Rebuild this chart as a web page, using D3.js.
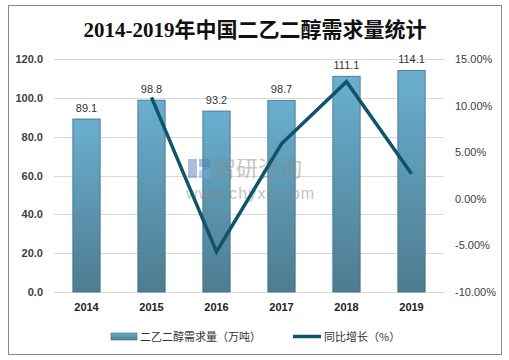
<!DOCTYPE html>
<html><head><meta charset="utf-8">
<script src="https://cdn.jsdelivr.net/npm/d3@7/dist/d3.min.js"></script>
<style>body{margin:0;background:#fff}svg{display:block}</style>
</head><body>
<svg id="c" width="509" height="360"></svg>
<script>
const years = ["2014","2015","2016","2017","2018","2019"];
const demand = [89.1, 98.8, 93.2, 98.7, 111.1, 114.1];
const growth = [null, 10.89, -5.67, 5.90, 12.56, 2.70];
const leftTicks = [0,20,40,60,80,100,120];
const rightTicks = [-10,-5,0,5,10,15];
const title = "2014-2019年中国二乙二醇需求量统计";
const legendBar = "二乙二醇需求量（万吨）";
const legendLine = "同比增长（%）";

const svg = d3.select("#c");
const defs = svg.append("defs");
const g = defs.append("linearGradient").attr("id","bg").attr("x1",0).attr("y1",0).attr("x2",0).attr("y2",1);
g.append("stop").attr("offset","0%").attr("stop-color","#6aafd0");
g.append("stop").attr("offset","100%").attr("stop-color","#4e7c90");

svg.append("rect").attr("x",8.5).attr("y",5.5).attr("width",493).attr("height",349)
  .attr("fill","#fff").attr("stroke","#888").attr("stroke-width",1);

svg.append("text").attr("x",255).attr("y",37).attr("text-anchor","middle")
  .attr("font-family","'Liberation Serif','Noto Sans CJK SC',serif").attr("font-size",21).attr("font-weight","bold")
  .attr("fill","#111").text(title);

const x = d3.scaleBand().domain(years).range([54,444]).paddingInner(0.58).paddingOuter(0.29);
const y = d3.scaleLinear().domain([0,120]).range([292,59]);
const y2 = d3.scaleLinear().domain([-10,15]).range([292,59]);

// gridlines
svg.append("g").selectAll("line").data(leftTicks).join("line")
  .attr("x1",54).attr("x2",444).attr("y1",d=>Math.round(y(d))+0.5).attr("y2",d=>Math.round(y(d))+0.5)
  .attr("stroke","#d9d9d9").attr("stroke-width",1);

// left axis
const la = svg.append("g").attr("transform","translate(54,0)")
  .call(d3.axisLeft(y).tickValues(leftTicks).tickFormat(d3.format(".1f")).tickSize(0).tickPadding(11));
la.select(".domain").remove();
la.selectAll("text").attr("font-family","'Liberation Sans',Arial,sans-serif").attr("font-size",11).attr("font-weight","bold").attr("fill","#404040");

// right axis
const ra = svg.append("g").attr("transform","translate(444,0)")
  .call(d3.axisRight(y2).tickValues(rightTicks).tickFormat(d=>d.toFixed(2)+"%").tickSize(0).tickPadding(11));
ra.select(".domain").remove();
ra.selectAll("text").attr("font-family","'Liberation Sans',Arial,sans-serif").attr("font-size",11).attr("fill","#404040");

// bottom axis
const ba = svg.append("g").attr("transform","translate(0,292)")
  .call(d3.axisBottom(x).tickSize(0).tickPadding(11));
ba.select(".domain").remove();
ba.selectAll("text").attr("font-family","'Liberation Sans',Arial,sans-serif").attr("font-size",11).attr("font-weight","bold").attr("fill","#222");

// bars
svg.append("g").selectAll("rect").data(demand).join("rect")
  .attr("x",(d,i)=>x(years[i])).attr("width",x.bandwidth())
  .attr("y",d=>y(d)).attr("height",d=>y(0)-y(d))
  .attr("fill","url(#bg)").attr("stroke","#3f6f84").attr("stroke-width",0.8);

// bar labels
svg.append("g").selectAll("text").data(demand).join("text")
  .attr("x",(d,i)=>x(years[i])+x.bandwidth()/2).attr("y",d=>y(d)-7)
  .attr("text-anchor","middle").attr("font-family","'Liberation Sans',Arial,sans-serif").attr("font-size",11)
  .attr("fill","#333").text(d=>d.toFixed(1));

// watermark
const wm = svg.append("g").attr("opacity",0.5);
wm.append("rect").attr("x",188).attr("y",159).attr("width",9).attr("height",19).attr("fill","#5b7fb8");
wm.append("rect").attr("x",199).attr("y",159).attr("width",11).attr("height",8).attr("fill","#5b7fb8");
wm.append("rect").attr("x",199).attr("y",170).attr("width",11).attr("height",8).attr("fill","#7fa6d8");
wm.append("text").attr("x",214).attr("y",176).attr("font-family","'Noto Sans CJK SC',sans-serif")
  .attr("font-size",22).attr("fill","#8a8a8a").text("智研咨询");
wm.append("text").attr("x",186).attr("y",199).attr("font-family","'Liberation Sans',Arial,sans-serif")
  .attr("font-size",16).attr("fill","#8a8a8a").attr("letter-spacing",1.2).text("www.chyxx.com");

// line
const pts = growth.map((v,i)=>({v,i})).filter(d=>d.v!==null);
svg.append("path").datum(pts)
  .attr("d",d3.line().x(d=>x(years[d.i])+x.bandwidth()/2).y(d=>y2(d.v)))
  .attr("fill","none").attr("stroke","#0d5569").attr("stroke-width",3.5).attr("stroke-linejoin","miter");

// legend
const lg = svg.append("g");
lg.append("rect").attr("x",111).attr("y",333).attr("width",26).attr("height",7).attr("fill","url(#bg)").attr("stroke","#3f6f84").attr("stroke-width",0.6);
lg.append("text").attr("x",140).attr("y",341).attr("font-family","'Noto Sans CJK SC',sans-serif").attr("font-size",11).attr("fill","#333").text(legendBar);
lg.append("line").attr("x1",293).attr("x2",321).attr("y1",336.5).attr("y2",336.5).attr("stroke","#0d5569").attr("stroke-width",3.5);
lg.append("text").attr("x",324).attr("y",341).attr("font-family","'Noto Sans CJK SC',sans-serif").attr("font-size",11).attr("fill","#333").text(legendLine);
</script>
</body></html>
